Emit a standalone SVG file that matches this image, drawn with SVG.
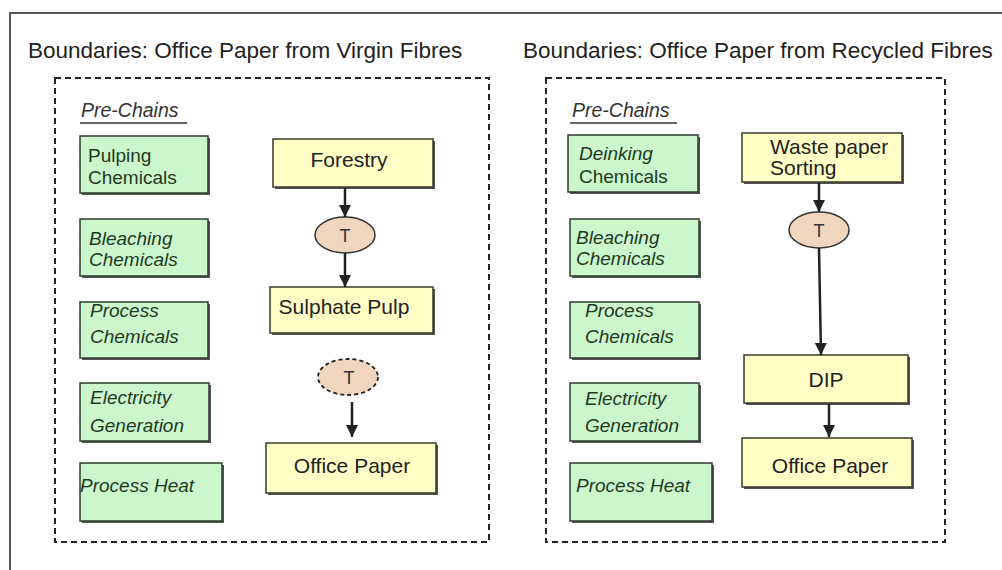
<svg xmlns="http://www.w3.org/2000/svg" width="1002" height="570" viewBox="0 0 1002 570">
<style>
  .title{font-family:"Liberation Sans",Arial,sans-serif;font-size:22.5px;fill:#222;}
  .pre{font-family:"Liberation Sans",Arial,sans-serif;font-size:19.5px;font-style:italic;fill:#333;}
  .gt{font-family:"Liberation Sans",Arial,sans-serif;font-size:19px;fill:#1f3a1f;}
  .it{font-style:italic;}
  .yt{font-family:"Liberation Sans",Arial,sans-serif;font-size:21px;fill:#222;}
  .green{fill:#ccf6cc;stroke:#2f3a2f;stroke-width:1.5;}
  .yellow{fill:#ffffc6;stroke:#3a3a2a;stroke-width:1.5;}
  .shadow{fill:#555;}
  .tel{fill:#f0d6be;stroke:#333;stroke-width:1.5;}
  .telD{fill:#f0d6be;stroke:#222;stroke-width:1.8;stroke-dasharray:4 3;}
  .bound{fill:none;stroke:#222;stroke-width:2;stroke-dasharray:6 4;}
  .frame{fill:none;stroke:#555;stroke-width:2;}
  .conn{stroke:#222;stroke-width:2.5;fill:none;}
  .tt{font-family:"Liberation Sans",Arial,sans-serif;font-size:18px;fill:#333;}
</style>
<defs>
  <marker id="ah" markerUnits="userSpaceOnUse" markerWidth="14" markerHeight="14" viewBox="0 0 14 14" refX="12" refY="7" orient="auto">
    <path d="M0,1 L12,7 L0,13 Z" fill="#222"/>
  </marker>
</defs>
<rect width="1002" height="570" fill="#ffffff"/>
<!-- outer frame -->
<path class="frame" d="M10,570 L10,13 L1002,13"/>

<!-- left panel -->
<g id="panel-virgin">
  <text class="title" x="28" y="58">Boundaries: Office Paper from Virgin Fibres</text>
  <rect class="bound" x="55" y="78" width="434" height="464"/>
  <text class="pre" x="81" y="117">Pre-Chains</text>
  <line x1="80" y1="123" x2="187" y2="123" stroke="#333" stroke-width="1.5"/>
</g>
<g id="v-pulping">
  <rect class="shadow" x="82" y="138" width="128" height="57"/>
  <rect class="green" x="80" y="136" width="128" height="57"/>
  <text class="gt" x="88" y="162">Pulping</text>
  <text class="gt" x="88" y="184">Chemicals</text>
</g>
<g id="v-bleaching">
  <rect class="shadow" x="82" y="221" width="128" height="57"/>
  <rect class="green" x="80" y="219" width="128" height="57"/>
  <text class="gt it" x="89" y="245">Bleaching</text>
  <text class="gt it" x="89" y="266">Chemicals</text>
</g>
<g id="v-process">
  <rect class="shadow" x="82" y="304" width="128" height="56"/>
  <rect class="green" x="80" y="302" width="128" height="56"/>
  <text class="gt it" x="90" y="317">Process</text>
  <text class="gt it" x="90" y="343">Chemicals</text>
</g>
<g id="v-electricity">
  <rect class="shadow" x="82" y="385" width="129" height="58"/>
  <rect class="green" x="80" y="383" width="129" height="58"/>
  <text class="gt it" x="90" y="404">Electricity</text>
  <text class="gt it" x="90" y="432">Generation</text>
</g>
<g id="v-heat">
  <rect class="shadow" x="82" y="465" width="142" height="58"/>
  <rect class="green" x="80" y="463" width="142" height="58"/>
  <text class="gt it" x="80" y="492">Process Heat</text>
</g>
<g id="v-forestry">
  <rect class="shadow" x="275" y="141" width="160" height="48"/>
  <rect class="yellow" x="273" y="139" width="160" height="48"/>
  <text class="yt" x="349" y="167" text-anchor="middle">Forestry</text>
</g>
<g id="v-t1">
  <ellipse class="tel" cx="345" cy="235" rx="30" ry="18"/>
  <text class="tt" x="345" y="242" text-anchor="middle">T</text>
</g>
<g id="v-pulp">
  <rect class="shadow" x="272" y="289" width="163" height="46"/>
  <rect class="yellow" x="270" y="287" width="163" height="46"/>
  <text class="yt" x="344" y="314" text-anchor="middle">Sulphate Pulp</text>
</g>
<g id="v-t2">
  <ellipse class="telD" cx="348" cy="377" rx="30" ry="18"/>
  <text class="tt" x="349" y="384" text-anchor="middle">T</text>
</g>
<g id="v-office">
  <rect class="shadow" x="268" y="445" width="170" height="50"/>
  <rect class="yellow" x="266" y="443" width="170" height="50"/>
  <text class="yt" x="352" y="473" text-anchor="middle">Office Paper</text>
</g>

<!-- right panel -->
<g id="panel-recycled">
  <text class="title" x="523" y="58">Boundaries: Office Paper from Recycled Fibres</text>
  <rect class="bound" x="546" y="78" width="399" height="464"/>
  <text class="pre" x="572" y="117">Pre-Chains</text>
  <line x1="570" y1="123" x2="677" y2="123" stroke="#333" stroke-width="1.5"/>
</g>
<g id="r-deinking">
  <rect class="shadow" x="570" y="137" width="130" height="57"/>
  <rect class="green" x="568" y="135" width="130" height="57"/>
  <text class="gt it" x="579" y="160">Deinking</text>
  <text class="gt" x="579" y="183">Chemicals</text>
</g>
<g id="r-bleaching">
  <rect class="shadow" x="572" y="221" width="129" height="57"/>
  <rect class="green" x="570" y="219" width="129" height="57"/>
  <text class="gt it" x="576" y="244">Bleaching</text>
  <text class="gt it" x="576" y="265">Chemicals</text>
</g>
<g id="r-process">
  <rect class="shadow" x="572" y="304" width="129" height="56"/>
  <rect class="green" x="570" y="302" width="129" height="56"/>
  <text class="gt it" x="585" y="317">Process</text>
  <text class="gt it" x="585" y="343">Chemicals</text>
</g>
<g id="r-electricity">
  <rect class="shadow" x="572" y="385" width="129" height="58"/>
  <rect class="green" x="570" y="383" width="129" height="58"/>
  <text class="gt it" x="585" y="405">Electricity</text>
  <text class="gt it" x="585" y="432">Generation</text>
</g>
<g id="r-heat">
  <rect class="shadow" x="572" y="465" width="142" height="58"/>
  <rect class="green" x="570" y="463" width="142" height="58"/>
  <text class="gt it" x="576" y="492">Process Heat</text>
</g>
<g id="r-waste">
  <rect class="shadow" x="744" y="135" width="160" height="49"/>
  <rect class="yellow" x="742" y="133" width="160" height="49"/>
  <text class="yt" x="770" y="154" font-size="20">Waste paper</text>
  <text class="yt" x="770" y="175" font-size="20">Sorting</text>
</g>
<g id="r-t1">
  <ellipse class="tel" cx="819" cy="230" rx="30" ry="18"/>
  <text class="tt" x="819" y="237" text-anchor="middle">T</text>
</g>
<g id="r-dip">
  <rect class="shadow" x="746" y="357" width="164" height="48"/>
  <rect class="yellow" x="744" y="355" width="164" height="48"/>
  <text class="yt" x="826" y="387" text-anchor="middle" font-size="24">DIP</text>
</g>
<g id="r-office">
  <rect class="shadow" x="744" y="440" width="170" height="49"/>
  <rect class="yellow" x="742" y="438" width="170" height="49"/>
  <text class="yt" x="830" y="473" text-anchor="middle">Office Paper</text>
</g>

<!-- connectors -->
<g id="connectors">
  <line class="conn" x1="345" y1="188" x2="345" y2="217" marker-end="url(#ah)"/>
  <line class="conn" x1="345" y1="253" x2="345" y2="287" marker-end="url(#ah)"/>
  <line class="conn" x1="352" y1="402" x2="352" y2="437" marker-end="url(#ah)"/>
  <line class="conn" x1="819" y1="183" x2="819" y2="212" marker-end="url(#ah)"/>
  <line class="conn" x1="819" y1="248" x2="821" y2="355" marker-end="url(#ah)"/>
  <line class="conn" x1="829" y1="404" x2="829" y2="437" marker-end="url(#ah)"/>
</g>
</svg>
